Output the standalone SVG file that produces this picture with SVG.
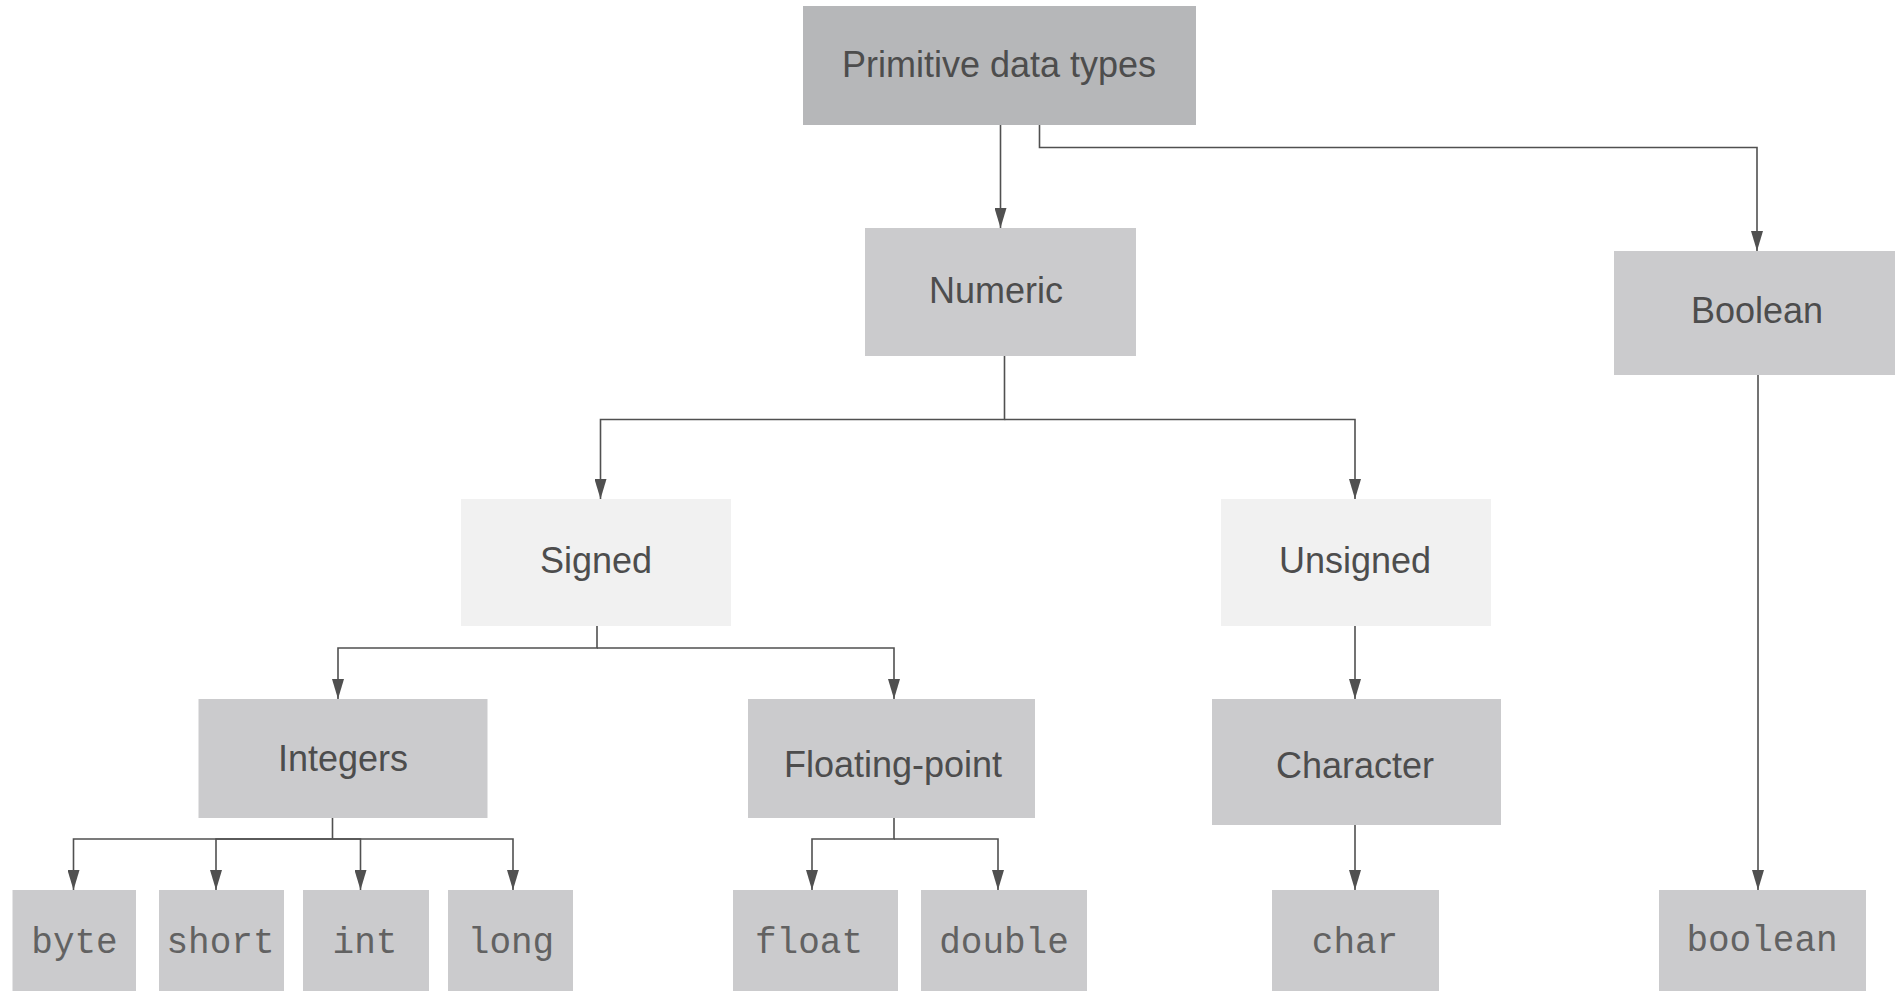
<svg xmlns="http://www.w3.org/2000/svg" width="1895" height="991" viewBox="0 0 1895 991">
<defs>
<style>
.dark{fill:#b6b7b9}
.mid{fill:#cbcbcd}
.light{fill:#f1f1f1}
.lbl{font-family:"Liberation Sans",Arial,sans-serif;font-size:36px;fill:#4d4d4d;text-anchor:middle}
.code{font-family:"Liberation Mono","Courier New",monospace;font-size:36px;fill:#626262;text-anchor:middle}
.conn path{fill:none;stroke:#505050;stroke-width:1.6;marker-end:url(#arr)}
</style>
<marker id="arr" viewBox="0 0 20 12" refX="20" refY="6" markerWidth="20" markerHeight="12" markerUnits="userSpaceOnUse" orient="auto">
<path d="M0,0 L20,6 L0,12 z" fill="#505050"/>
</marker>
</defs>
<rect width="1895" height="991" fill="#ffffff"/>
<g id="n-primitive"><rect class="dark" x="803" y="6" width="393" height="119"/><text class="lbl" x="999" y="77">Primitive data types</text></g>
<g id="n-numeric"><rect class="mid" x="865" y="228" width="271" height="128"/><text class="lbl" x="996" y="303">Numeric</text></g>
<g id="n-boolean"><rect class="mid" x="1614" y="251" width="281" height="124"/><text class="lbl" x="1757" y="323">Boolean</text></g>
<g id="n-signed"><rect class="light" x="461" y="499" width="270" height="127"/><text class="lbl" x="596" y="573">Signed</text></g>
<g id="n-unsigned"><rect class="light" x="1221" y="499" width="270" height="127"/><text class="lbl" x="1355" y="573">Unsigned</text></g>
<g id="n-integers"><rect class="mid" x="198.5" y="699" width="289" height="119"/><text class="lbl" x="343" y="771">Integers</text></g>
<g id="n-floating"><rect class="mid" x="748" y="699" width="287" height="119"/><text class="lbl" x="893" y="777">Floating-point</text></g>
<g id="n-character"><rect class="mid" x="1212" y="699" width="289" height="126"/><text class="lbl" x="1355" y="778">Character</text></g>
<g id="n-byte"><rect class="mid" x="12.5" y="890" width="123.5" height="110"/><text class="code" x="74.5" y="953">byte</text></g>
<g id="n-short"><rect class="mid" x="159" y="890" width="125" height="110"/><text class="code" x="220.5" y="953">short</text></g>
<g id="n-int"><rect class="mid" x="303" y="890" width="126" height="110"/><text class="code" x="365" y="953">int</text></g>
<g id="n-long"><rect class="mid" x="448" y="890" width="125" height="110"/><text class="code" x="511" y="953">long</text></g>
<g id="n-float"><rect class="mid" x="733" y="890" width="165" height="110"/><text class="code" x="755" y="953" style="text-anchor:start">float</text></g>
<g id="n-double"><rect class="mid" x="921" y="890" width="166" height="110"/><text class="code" x="1004" y="953">double</text></g>
<g id="n-char"><rect class="mid" x="1272" y="890" width="167" height="110"/><text class="code" x="1355" y="953">char</text></g>
<g id="n-boolean-leaf"><rect class="mid" x="1659" y="890" width="207" height="110"/><text class="code" x="1762" y="951">boolean</text></g>
<g id="connectors" class="conn">
<path d="M1000.5,125 V228"/>
<path d="M1039.5,125 V147.5 H1757 V251"/>
<path d="M1004.5,356 V419.5 H600.5 V499"/>
<path d="M1004.5,419.5 H1355 V499"/>
<path d="M597,626 V648 H338 V699"/>
<path d="M597,648 H894 V699"/>
<path d="M332.5,818 V839 H73.5 V890"/>
<path d="M332.5,839 H216 V890"/>
<path d="M332.5,839 H360.5 V890"/>
<path d="M332.5,839 H513 V890"/>
<path d="M894,818 V839 H812 V890"/>
<path d="M894,839 H998 V890"/>
<path d="M1355,626 V699"/>
<path d="M1355,825 V890"/>
<path d="M1758,375 V890"/>
</g>
</svg>
